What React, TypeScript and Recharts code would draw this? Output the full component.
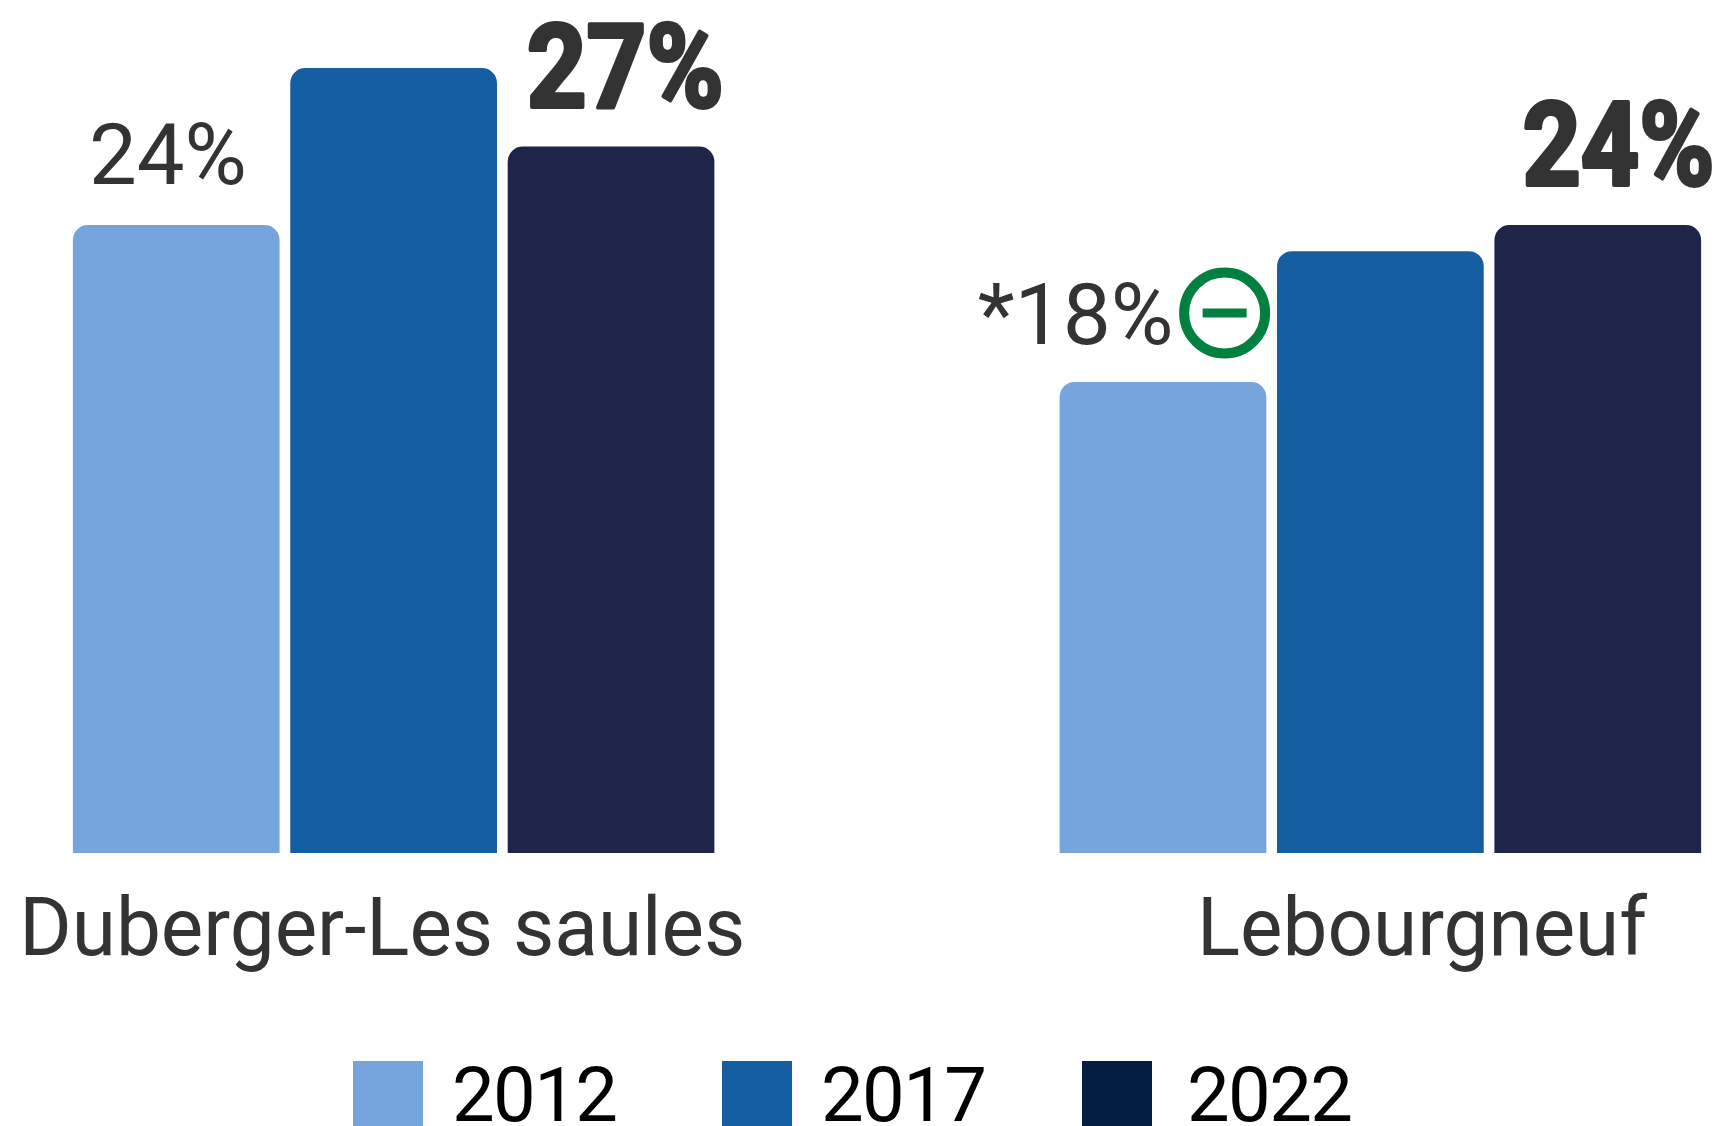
import React from "react";
import { BarChart, Bar, XAxis, YAxis, Legend, LabelList } from "recharts";

const categories = ["Duberger-Les saules", "Lebourgneuf"];
const years = ["2012", "2017", "2022"];
const values2012 = [24, 18];
const values2017 = [30, 23];
const values2022 = [27, 24];
const labels2012 = ["24%", "*18%"];
const labels2022 = ["27%", "24%"];
const markers2012 = [false, true];

const barColors = ["#76A4DC", "#155EA1", "#1F2549"];
const legendColors = ["#76A4DC", "#155EA1", "#041E42"];
const textColor = "#333333";
const green = "#018040";

const data = categories.map((name, i) => ({
  name,
  v2012: values2012[i],
  v2017: values2017[i],
  v2022: values2022[i],
}));

const Light2012 = (props: any) => {
  const { x, y, index } = props;
  const place = [
    { dx: 16, dy: -41, len: 158 },
    { dx: -82, dy: -38, len: 196 },
  ][index];
  return (
    <g>
      <text x={x + place.dx} y={y + place.dy} fontFamily="Roboto" fontWeight={400} fontSize={85} fill={textColor} textLength={place.len} lengthAdjust="spacingAndGlyphs">
        {labels2012[index]}
      </text>
      {markers2012[index] && (
        <g>
          <circle cx={x + 165} cy={y - 69} r={40.5} fill="none" stroke={green} strokeWidth={10} />
          <line x1={x + 143} x2={x + 187} y1={y - 69} y2={y - 69} stroke={green} strokeWidth={9} />
        </g>
      )}
    </g>
  );
};

const Bold2022 = (props: any) => {
  const { x, y, index } = props;
  const place = [
    { dx: 19, dy: -40, len: 197 },
    { dx: 28, dy: -40, len: 192 },
  ][index];
  return (
    <text x={x + place.dx} y={y + place.dy} fontFamily="Roboto" fontWeight={700} fontSize={116} fill={textColor} stroke={textColor} strokeWidth={4} strokeLinejoin="round" textLength={place.len} lengthAdjust="spacingAndGlyphs">
      {labels2022[index]}
    </text>
  );
};

const CategoryTick = (props: any) => {
  const { x, payload, index } = props;
  const place = [
    { dx: -11, len: 726 },
    { dx: 42, len: 450 },
  ][index];
  return (
    <text x={x + place.dx} y={955} textAnchor="middle" fontFamily="Roboto" fontWeight={400} fontSize={82} fill={textColor} textLength={place.len} lengthAdjust="spacingAndGlyphs">
      {payload.value}
    </text>
  );
};

const legendLefts = [353, 722, 1082];
const legendTextLefts = [452, 821, 1187];

const LegendContent = () => (
  <div style={{ position: "relative", width: 1725, height: 65 }}>
    {years.map((year, i) => (
      <React.Fragment key={year}>
        <div style={{ position: "absolute", left: legendLefts[i], top: 0, width: 70, height: 65, background: legendColors[i] }} />
        <div style={{ position: "absolute", left: legendTextLefts[i], top: 2, height: 65, lineHeight: "65px", fontFamily: "Roboto", fontSize: 76, letterSpacing: -1.6, color: "#000" }}>{year}</div>
      </React.Fragment>
    ))}
  </div>
);

export default function App() {
  return (
    <div style={{ position: "absolute", left: 0, top: 0, width: 1725, height: 1126, overflow: "hidden", background: "#fff" }}>
      <BarChart width={1725} height={1126} data={data} margin={{ top: 68, right: 0, bottom: 0, left: 0 }} barSize={206.7} barGap={10.7}>
        <XAxis dataKey="name" scale="point" padding={{ left: 393.25, right: 345 }} height={273} axisLine={false} tickLine={false} interval={0} tick={<CategoryTick />} />
        <YAxis hide domain={[0, 30]} />
        <Legend layout="horizontal" verticalAlign="middle" content={<LegendContent />} wrapperStyle={{ left: 0, top: 1061, width: 1725, height: 65, transform: "none" }} />
        <Bar dataKey="v2012" name="2012" fill={barColors[0]} radius={[15, 15, 0, 0]} isAnimationActive={false}>
          <LabelList dataKey="v2012" content={<Light2012 />} />
        </Bar>
        <Bar dataKey="v2017" name="2017" fill={barColors[1]} radius={[15, 15, 0, 0]} isAnimationActive={false} />
        <Bar dataKey="v2022" name="2022" fill={barColors[2]} radius={[15, 15, 0, 0]} isAnimationActive={false}>
          <LabelList dataKey="v2022" content={<Bold2022 />} />
        </Bar>
      </BarChart>
    </div>
  );
}
